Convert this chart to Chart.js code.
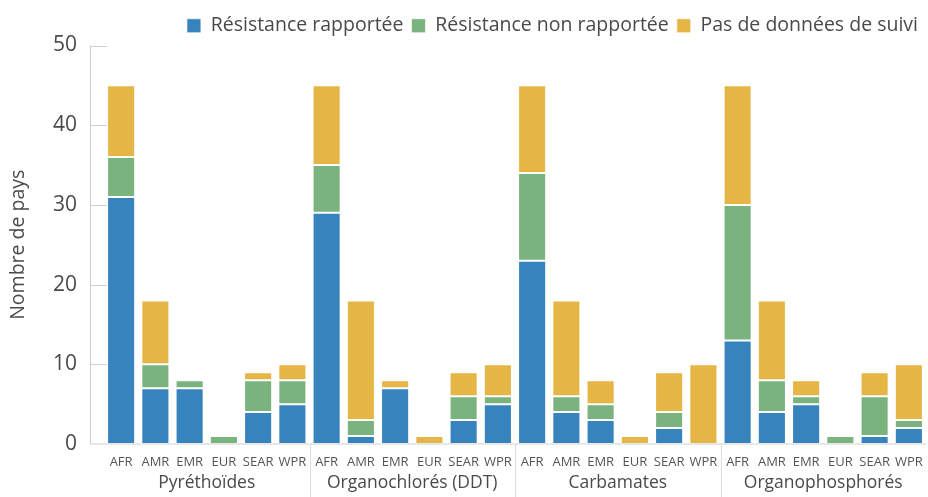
<!DOCTYPE html>
<html>
<head>
<meta charset="utf-8">
<script src="https://cdn.jsdelivr.net/npm/chart.js@4"></script>
<style>
  html, body { margin: 0; padding: 0; background: #fff; }
  #wrap { width: 928px; height: 497px; }
</style>
</head>
<body>
<div id="wrap"><canvas id="resistance"></canvas></div>
<script>
const regions = ["AFR", "AMR", "EMR", "EUR", "SEAR", "WPR"];
const groups = ["Pyréthoïdes", "Organochlorés (DDT)", "Carbamates", "Organophosphorés"];
const yTicks = [0, 10, 20, 30, 40, 50];

// one value per bar: 4 groups x 6 regions
const resistanceRapportee    = [31, 7, 7, 0, 4, 5,  29, 1, 7, 0, 3, 5,  23, 4, 3, 0, 2, 0,  13, 4, 5, 0, 1, 2];
const resistanceNonRapportee = [ 5, 3, 1, 1, 4, 3,   6, 2, 0, 0, 3, 1,  11, 2, 2, 0, 2, 0,  17, 4, 1, 1, 5, 1];
const pasDeDonnees           = [ 9, 8, 0, 0, 1, 2,  10,15, 1, 1, 3, 4,  11,12, 3, 1, 5,10,  15,10, 2, 0, 3, 7];

const labels = [];
groups.forEach(() => regions.forEach(r => labels.push(r)));

const FONT = "'Open Sans', sans-serif";
const TEXT = "#4a4a4a";

// axis line, inward ticks, group separators and group names
const groupAxis = {
  id: "groupAxis",
  afterDraw(chart) {
    const { ctx, chartArea, scales } = chart;
    const x = scales.x, y = scales.y;
    const x0 = chartArea.left - 14;
    ctx.save();
    ctx.lineWidth = 1;
    ctx.strokeStyle = "#d0d0d0";
    ctx.beginPath();
    ctx.moveTo(x0 + 0.5, y.getPixelForValue(50));
    ctx.lineTo(x0 + 0.5, chartArea.bottom);
    ctx.lineTo(chartArea.right, chartArea.bottom);
    yTicks.forEach(v => {
      if (v === 0) return;
      const py = Math.round(y.getPixelForValue(v)) + 0.5;
      ctx.moveTo(x0, py);
      ctx.lineTo(x0 + 17, py);
    });
    ctx.stroke();

    ctx.strokeStyle = "#dddddd";
    ctx.beginPath();
    for (let g = 1; g < groups.length; g++) {
      const px = Math.round((x.getPixelForValue(g * 6 - 1) + x.getPixelForValue(g * 6)) / 2) + 0.5;
      ctx.moveTo(px, chartArea.bottom);
      ctx.lineTo(px, chart.height);
    }
    ctx.stroke();

    ctx.fillStyle = TEXT;
    ctx.font = "17.5px " + FONT;
    ctx.textAlign = "center";
    ctx.textBaseline = "middle";
    groups.forEach((g, i) => {
      const cx = (x.getPixelForValue(i * 6) + x.getPixelForValue(i * 6 + 5)) / 2;
      ctx.fillText(g, cx, 483);
    });
    ctx.restore();
  }
};

new Chart(document.getElementById("resistance"), {
  type: "bar",
  data: {
    labels: labels,
    datasets: [
      { label: "Résistance rapportée", data: resistanceRapportee, backgroundColor: "#3783bd" },
      { label: "Résistance non rapportée", data: resistanceNonRapportee, backgroundColor: "#7bb37e" },
      { label: "Pas de données de suivi", data: pasDeDonnees, backgroundColor: "#e5b646" }
    ]
  },
  options: {
    responsive: true,
    maintainAspectRatio: false,
    animation: false,
    layout: { padding: { left: 0, right: 2, top: 8, bottom: 0 } },
    datasets: {
      bar: {
        barPercentage: 0.82,
        categoryPercentage: 1,
        borderColor: "rgba(255,255,255,0.7)",
        borderWidth: 1,
        borderSkipped: false
      }
    },
    plugins: {
      legend: {
        position: "top",
        align: "end",
        labels: {
          boxWidth: 14,
          boxHeight: 14,
          padding: 8,
          color: TEXT,
          font: { family: FONT, size: 19.5 }
        }
      },
      tooltip: { enabled: false }
    },
    scales: {
      x: {
        stacked: true,
        offset: true,
        grid: { display: false },
        border: { display: false },
        ticks: {
          color: "#555",
          padding: 2,
          maxRotation: 0,
          autoSkip: false,
          font: { family: FONT, size: 13 }
        },
        afterFit(scale) { scale.height = 53; }
      },
      y: {
        stacked: true,
        min: 0,
        max: 50,
        grid: { display: false },
        border: { display: false },
        afterBuildTicks(scale) { scale.ticks = yTicks.map(v => ({ value: v })); },
        ticks: {
          color: TEXT,
          padding: 19,
          font: { family: FONT, size: 21 }
        },
        title: {
          display: true,
          text: "Nombre de pays",
          color: TEXT,
          padding: { top: 7, bottom: 0 },
          font: { family: FONT, size: 19.5 }
        },
        afterFit(scale) { scale.width = 104; }
      }
    }
  },
  plugins: [groupAxis]
});
</script>
</body>
</html>
